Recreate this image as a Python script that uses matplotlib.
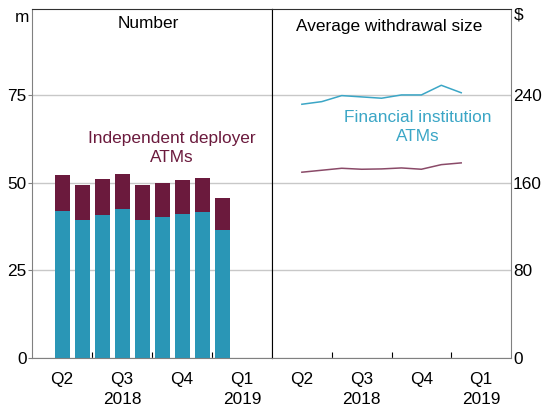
import numpy as np
import matplotlib.pyplot as plt

plt.rcParams['font.family'] = ['Liberation Sans', 'DejaVu Sans']

# monthly data, May 2018 - Jan 2019 (month index 0 = Apr 2018)
months = [1, 2, 3, 4, 5, 6, 7, 8, 9]
fi_number = [42.0, 39.3, 40.7, 42.4, 39.3, 40.1, 41.0, 41.5, 36.4]
total_number = [52.3, 49.4, 51.0, 52.6, 49.4, 50.0, 50.8, 51.4, 45.7]
ind_number = [t - f for t, f in zip(total_number, fi_number)]
fi_avg = [231.5, 233.9, 239.4, 238.2, 237.0, 240.0, 240.0, 248.8, 242.0]
ind_avg = [169.5, 171.3, 173.1, 172.2, 172.5, 173.4, 172.2, 176.4, 178.0]

quarter_labels = ['Q2', 'Q3', 'Q4', 'Q1']
year_labels = ['2018', '2019']

teal = '#2a96b6'
maroon = '#6b1a3d'
teal_line = '#3ba6c6'
maroon_line = '#8a4a68'
grid_c = '#c8c8c8'
spine_c = '#808080'
fs = 12.4

W, H = 549, 408
fig = plt.figure(figsize=(W / 100, H / 100), dpi=100)
x0, xm, x1 = 32, 272, 511
yb, yt = 358, 9
ax1 = fig.add_axes([x0 / W, 1 - yb / H, (xm - x0) / W, (yb - yt) / H])
ax2 = fig.add_axes([xm / W, 1 - yb / H, (x1 - xm) / W, (yb - yt) / H])

ytop = 99.5
ax1.set_ylim(0, ytop)
ax2.set_ylim(0, ytop * 240 / 75)
for ax in (ax1, ax2):
    ax.set_xlim(-0.5, 11.5)
    ax.set_xticks([2.5, 5.5, 8.5])
    ax.set_xticks([1, 4, 7, 10], minor=True)
    ax.set_xticklabels([])
    ax.set_xticklabels(quarter_labels, minor=True)
    ax.tick_params(axis='x', which='major', direction='in', length=4, color='black', width=0.8)
    ax.tick_params(axis='x', which='minor', length=0, pad=10, labelsize=fs)
    ax.spines['bottom'].set_color(spine_c)
    ax.spines['top'].set_color('#303030')
    for i, y in enumerate(year_labels):
        ax.text(4 + 6 * i, -0.118, y, transform=ax.get_xaxis_transform(),
                ha='center', va='center', fontsize=fs)

ax1.set_yticks([0, 25, 50, 75])
ax1.tick_params(axis='y', direction='out', length=3, color=spine_c, labelsize=fs, pad=1)
ax1.spines['left'].set_color(spine_c)
ax1.spines['right'].set_color('black')
ax1.grid(axis='y', color=grid_c, lw=1)
ax1.set_axisbelow(True)

ax2.yaxis.tick_right()
ax2.set_yticks([0, 80, 160, 240])
ax2.tick_params(axis='y', direction='out', length=0, labelsize=fs, pad=1.5)
ax2.spines['right'].set_color(spine_c)
ax2.spines['left'].set_color('black')
ax2.grid(axis='y', color=grid_c, lw=1)
ax2.set_axisbelow(True)

ax1.bar(months, fi_number, width=0.75, color=teal)
ax1.bar(months, ind_number, width=0.75, bottom=fi_number, color=maroon)

ax2.plot(months, fi_avg, color=teal_line, lw=1.1)
ax2.plot(months, ind_avg, color=maroon_line, lw=1.1)

ax1.text(0.483, 0.9456, 'Number', transform=ax1.transAxes, ha='center', va='baseline', fontsize=fs)
ax2.text(0.4916, 0.937, 'Average withdrawal size', transform=ax2.transAxes,
         ha='center', va='baseline', fontsize=fs)
ax1.text(6.5, 59.9, 'Independent deployer\nATMs', color=maroon, ha='center', va='center',
         fontsize=fs, linespacing=1.27)
ax2.text(6.83, 210.5, 'Financial institution\nATMs', color=teal_line, ha='center', va='center',
         fontsize=fs, linespacing=1.35)

fig.text(22 / W, 1 - 17 / H, 'm', ha='center', va='center', fontsize=fs)
fig.text(519 / W, 1 - 15 / H, '$', ha='center', va='center', fontsize=fs)

fig.savefig('out.png', dpi=100)
